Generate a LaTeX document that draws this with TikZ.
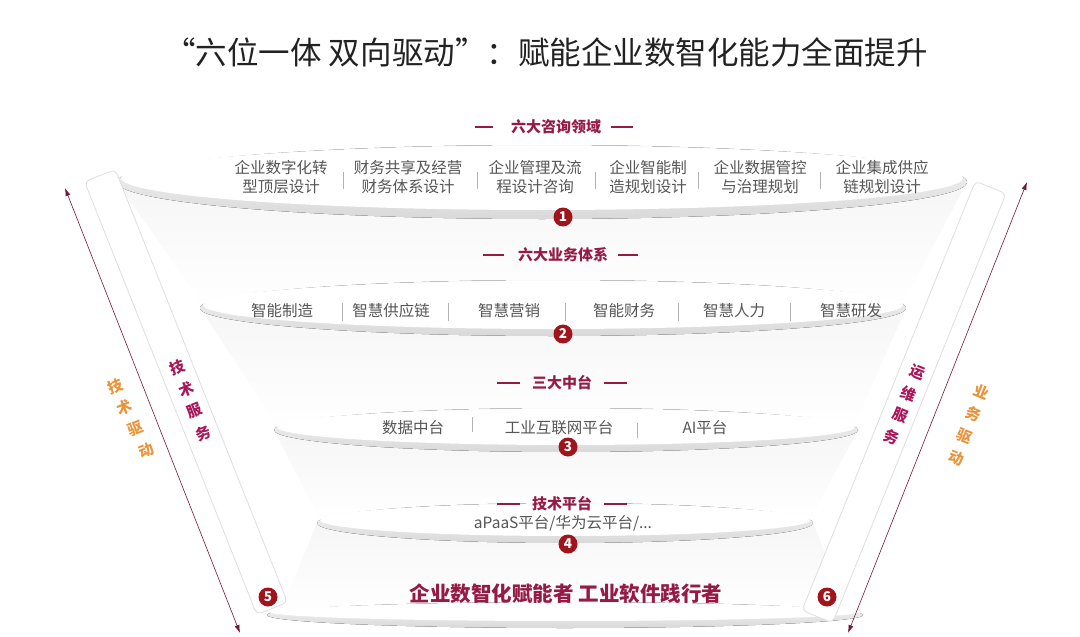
\documentclass[tikz,border=0pt]{standalone}
\usepackage{fontspec}
\setmainfont{Noto Sans CJK SC}
\usetikzlibrary{arrows.meta}
\definecolor{hdr}{HTML}{951B45}
\definecolor{badgec}{HTML}{A0141C}
\definecolor{orng}{HTML}{E8943A}
\definecolor{mag}{HTML}{A8175A}
\definecolor{itm}{HTML}{555555}
\definecolor{ttl}{HTML}{222222}
\begin{document}
\begin{tikzpicture}[x=1pt,y=-1pt,
  item/.style={font=\fontsize{15.5}{18.5}\selectfont, text=itm, align=center, inner sep=0},
  hdrtext/.style={font=\fontsize{15}{18}\selectfont\bfseries, text=hdr, inner sep=0},
  hdrline/.style={draw=hdr, line width=1.3},
  badge/.style={circle, fill=badgec, text=white, font=\fontsize{13.5}{13.5}\selectfont\bfseries, inner sep=0, minimum size=19},
  sepline/.style={draw=gray!60, line width=0.7},
  sidetext/.style={font=\fontsize{15}{15}\selectfont\bfseries, inner sep=0},
  strip/.style={draw=gray!25, fill=white, rounded corners=5, line width=0.8, minimum height=33, inner sep=0},
  dblarrow/.style={draw=hdr!80!black, line width=0.6, {Latex[length=8pt,width=5pt]}-{Latex[length=8pt,width=5pt]}},
  body/.style={top color=gray!7, bottom color=white},
  rimout/.style={top color=gray!5, bottom color=gray!30},
  rimin/.style={fill=white}
]
\fill[white] (0,0) rectangle (1080,637);
\useasboundingbox (0,0) rectangle (1080,637);

% ---------- bowl bodies ----------
\shade[body] (117,182) arc[start angle=180,end angle=0,x radius=425,y radius=37] -- (900,308) -- (205,308) -- cycle;
\shade[body] (200,308) arc[start angle=180,end angle=0,x radius=353,y radius=28] -- (852,430) -- (280,430) -- cycle;
\shade[body] (274,430) arc[start angle=180,end angle=0,x radius=292,y radius=22] -- (808,523) -- (322,523) -- cycle;
\shade[body] (317,523) arc[start angle=180,end angle=0,x radius=248,y radius=20] -- (850,614) -- (280,614) -- cycle;

% ---------- base ----------
\fill[rimout] (565,615) ellipse [x radius=298, y radius=13];
\fill[rimin] (565,612) ellipse [x radius=295, y radius=9];

% ---------- rims ----------
\fill[rimout] (542,182) ellipse [x radius=425, y radius=37];
\fill[rimin] (542,178) ellipse [x radius=421, y radius=32];
\fill[rimout] (553,308) ellipse [x radius=353, y radius=28];
\fill[rimin] (553,305) ellipse [x radius=350, y radius=24];
\fill[rimout] (566,430) ellipse [x radius=292, y radius=22];
\fill[rimin] (566,427) ellipse [x radius=289, y radius=18];
\fill[rimout] (565,523) ellipse [x radius=248, y radius=20];
\fill[rimin] (565,520) ellipse [x radius=245, y radius=16];

% ---------- title ----------
\node[font=\fontsize{31.5}{36}\selectfont, text=ttl, inner sep=0] (title) at (546,52) {“六位一体 双向驱动”：赋能企业数智化能力全面提升};

% ---------- tier 1 ----------
\node[hdrtext] (h1) at (556,127) {六大咨询领域};
\draw[hdrline] ([xshift=-18pt]h1.west) -- ++(-18,0);
\draw[hdrline] ([xshift=10pt]h1.east) -- ++(22,0);
\node[item] (t11) at (281,177) {企业数字化转\\型顶层设计};
\node[item] (t12) at (408,177) {财务共享及经营\\财务体系设计};
\node[item] (t13) at (535,177) {企业管理及流\\程设计咨询};
\node[item] (t14) at (648,177) {企业智能制\\造规划设计};
\node[item] (t15) at (760,177) {企业数据管控\\与治理规划};
\node[item] (t16) at (882,177) {企业集成供应\\链规划设计};
\foreach \x in {343,477,595,698,820} \draw[sepline] (\x,172) -- (\x,189);
\node[badge] (b1) at (563,217) {1};

% ---------- tier 2 ----------
\node[hdrtext] (h2) at (563,255) {六大业务体系};
\draw[hdrline] ([xshift=-14pt]h2.west) -- ++(-21,0);
\draw[hdrline] ([xshift=10pt]h2.east) -- ++(20,0);
\node[item] (t21) at (282,311) {智能制造};
\node[item] (t22) at (391,311) {智慧供应链};
\node[item] (t23) at (509,311) {智慧营销};
\node[item] (t24) at (624,311) {智能财务};
\node[item] (t25) at (734,311) {智慧人力};
\node[item] (t26) at (851,311) {智慧研发};
\foreach \x in {342,448,565,678,790} \draw[sepline] (\x,303) -- (\x,321);
\node[badge] (b2) at (563,334) {2};

% ---------- tier 3 ----------
\node[hdrtext] (h3) at (562,383) {三大中台};
\draw[hdrline] ([xshift=-12pt]h3.west) -- ++(-23,0);
\draw[hdrline] ([xshift=12pt]h3.east) -- ++(23,0);
\node[item] (t31) at (413,428) {数据中台};
\node[item] (t32) at (559,428) {工业互联网平台};
\node[item] (t33) at (705,428) {AI平台};
\draw[sepline] (472,417) -- (472,432);
\draw[sepline] (637,423) -- (637,438);
\node[badge] (b3) at (568,447) {3};

% ---------- tier 4 ----------
\node[hdrtext] (h4) at (562,504) {技术平台};
\draw[hdrline] ([xshift=-12pt]h4.west) -- ++(-23,0);
\draw[hdrline] ([xshift=12pt]h4.east) -- ++(23,0);
\node[item] (t41) at (563,523) {aPaaS平台/华为云平台/...};
\node[badge] (b4) at (568,544) {4};

% ---------- bottom ----------
\node[font=\fontsize{20.5}{24}\selectfont\bfseries, text=hdr, inner sep=0] (bot) at (566,594) {企业数智化赋能者 工业软件践行者};

% ---------- side strips ----------
\node[strip, minimum width=466, rotate=-68.3] (stripL) at (186,392) {};
\node[strip, minimum width=463, rotate=68] (stripR) at (904,402) {};

\coordinate (aLt) at (65,188);
\coordinate (aLb) at (240,633);
\coordinate (aRt) at (1027,182);
\coordinate (aRb) at (848,633);
\draw[dblarrow] (aLt) -- (aLb);
\draw[dblarrow] (aRt) -- (aRb);

% left texts
\node[sidetext, text=mag, rotate=21.7] (l1) at (177,367) {技};
\node[sidetext, text=mag, rotate=21.7] (l2) at (186,389) {术};
\node[sidetext, text=mag, rotate=21.7] (l3) at (194,411) {服};
\node[sidetext, text=mag, rotate=21.7] (l4) at (203,433) {务};
\node[sidetext, text=orng, rotate=21.7] (o1) at (115,386) {技};
\node[sidetext, text=orng, rotate=21.7] (o2) at (124,407) {术};
\node[sidetext, text=orng, rotate=21.7] (o3) at (135,429) {驱};
\node[sidetext, text=orng, rotate=21.7] (o4) at (146,451) {动};
% right texts
\node[sidetext, text=mag, rotate=-22] (r1) at (917,372) {运};
\node[sidetext, text=mag, rotate=-22] (r2) at (909,394) {维};
\node[sidetext, text=mag, rotate=-22] (r3) at (900,415) {服};
\node[sidetext, text=mag, rotate=-22] (r4) at (892,437) {务};
\node[sidetext, text=orng, rotate=-22] (p1) at (982,392) {业};
\node[sidetext, text=orng, rotate=-22] (p2) at (974,414) {务};
\node[sidetext, text=orng, rotate=-22] (p3) at (965,436) {驱};
\node[sidetext, text=orng, rotate=-22] (p4) at (957,458) {动};

\node[badge] (b5) at (268,597) {5};
\node[badge] (b6) at (827,597) {6};
\end{tikzpicture}
\end{document}
